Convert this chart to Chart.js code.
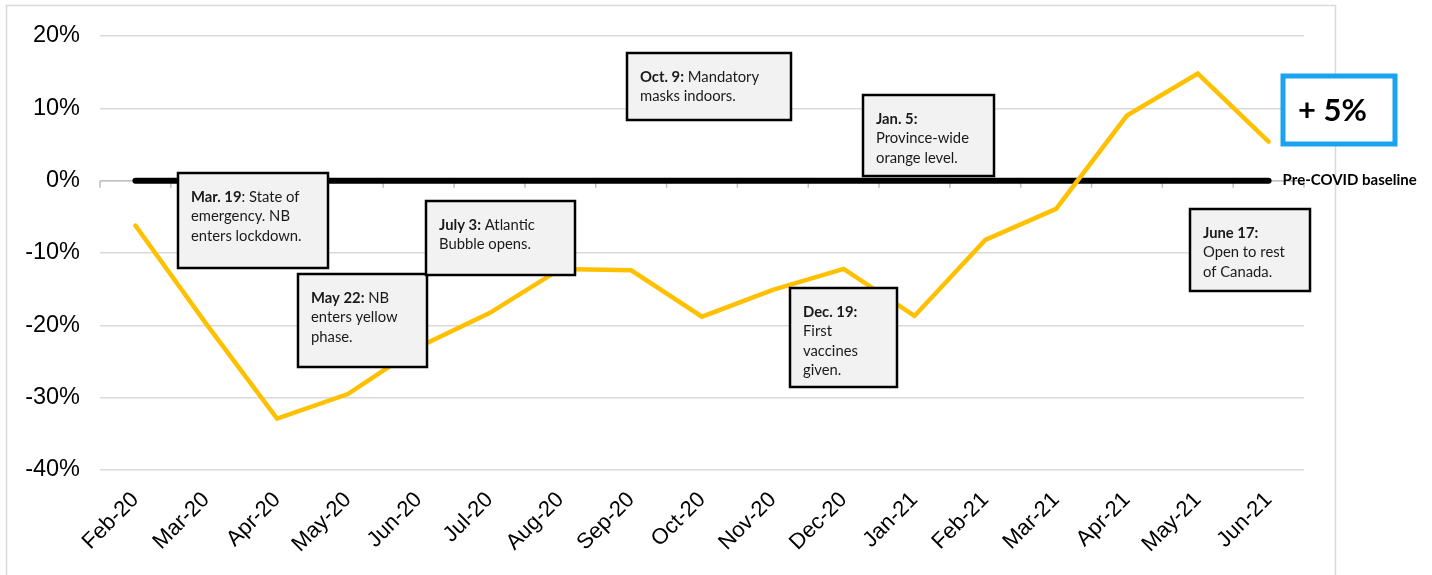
<!DOCTYPE html>
<html>
<head>
<meta charset="utf-8">
<script src="https://cdn.jsdelivr.net/npm/chart.js@4/dist/chart.umd.min.js"></script>
<style>
  body { margin: 0; background: #fff; }
</style>
</head>
<body>
<canvas id="myChart" width="1432" height="575"></canvas>
<script>
// monthly change in activity vs. pre-COVID level (%)
const months = ['Feb-20', 'Mar-20', 'Apr-20', 'May-20', 'Jun-20', 'Jul-20', 'Aug-20', 'Sep-20', 'Oct-20',
  'Nov-20', 'Dec-20', 'Jan-21', 'Feb-21', 'Mar-21', 'Apr-21', 'May-21', 'Jun-21'];
const changePct = [-6.2, -19.8, -32.9, -29.5, -23.0, -18.3, -12.2, -12.4, -18.8,
  -15.1, -12.2, -18.7, -8.2, -3.9, 9.0, 14.8, 5.4];
const baseline = [0, 0, 0, 0, 0, 0, 0, 0, 0, 0, 0, 0, 0, 0, 0, 0, 0];
const yTicks = [-40, -30, -20, -10, 0, 10, 20];

// event call-outs, anchored in axis units (category index, percent)
const notes = [
  { at: [0.595, 1.06], w: 150, h: 95, head: 'Mar. 19', lines: [': State of', 'emergency. NB', 'enters lockdown.'] },
  { at: [2.30, -12.9], w: 129, h: 93, head: 'May 22:', lines: [' NB', 'enters yellow', 'phase.'] },
  { at: [4.11, -2.79], w: 149, h: 74, head: 'July 3:', lines: [' Atlantic', 'Bubble opens.'] },
  { at: [6.94, 17.66], w: 164, h: 67, head: 'Oct. 9:', lines: [' Mandatory', 'masks indoors.'] },
  { at: [9.24, -14.84], w: 107, h: 99, head: 'Dec. 19:', lines: ['', 'First', 'vaccines', 'given.'] },
  { at: [10.28, 11.85], w: 131, h: 81, head: 'Jan. 5:', lines: ['', 'Province-wide', 'orange level.'] },
  { at: [14.89, -3.97], w: 120, h: 82, head: 'June 17:', lines: ['', 'Open to rest', 'of Canada.'] }
];

const noteFont = '"Lato", "Open Sans", sans-serif';

const overlay = {
  id: 'overlay',
  beforeDatasetsDraw(chart) {
    const { ctx, chartArea, scales: { x, y } } = chart;
    ctx.save();
    // outer frame
    ctx.strokeStyle = '#d9d9d9';
    ctx.lineWidth = 1.5;
    ctx.strokeRect(6.5, 5.5, 1329, 620);
    // horizontal axis crossing at 0 with tick marks between months
    const y0 = y.getPixelForValue(0);
    ctx.strokeStyle = '#bfbfbf';
    ctx.lineWidth = 1.5;
    ctx.beginPath();
    ctx.moveTo(chartArea.left, y0);
    ctx.lineTo(chartArea.right, y0);
    for (let i = -0.5; i <= months.length - 0.5; i++) {
      const px = x.getPixelForValue(i);
      ctx.moveTo(px, y0);
      ctx.lineTo(px, y0 + 7);
    }
    ctx.stroke();
    ctx.restore();
  },
  afterDatasetsDraw(chart) {
    const { ctx, scales: { x, y } } = chart;
    ctx.save();
    notes.forEach(n => {
      const left = Math.round(x.getPixelForValue(n.at[0]));
      const top = Math.round(y.getPixelForValue(n.at[1]));
      ctx.fillStyle = '#f2f2f2';
      ctx.fillRect(left, top, n.w, n.h);
      ctx.strokeStyle = '#000';
      ctx.lineWidth = 2.5;
      ctx.strokeRect(left, top, n.w, n.h);
      ctx.fillStyle = '#1a1a1a';
      ctx.textBaseline = 'middle';
      ctx.textAlign = 'left';
      n.lines.forEach((line, k) => {
        const ty = top + 24 + k * 19.5;
        let tx = left + 13;
        if (k === 0) {
          ctx.font = 'bold 14.8px ' + noteFont;
          ctx.fillText(n.head, tx, ty);
          tx += ctx.measureText(n.head).width;
        }
        ctx.font = '14.8px ' + noteFont;
        ctx.fillText(line, tx, ty);
      });
    });

    // baseline label at the end of the zero line
    const last = months.length - 1;
    const y0 = y.getPixelForValue(0);
    ctx.font = 'bold 15px ' + noteFont;
    ctx.fillStyle = '#000';
    ctx.fillText('Pre-COVID baseline', x.getPixelForValue(last) + 14, y0 - 1);

    // latest value box
    const latest = changePct[last];
    const bx = Math.round(x.getPixelForValue(last + 0.2));
    const by = Math.round(y.getPixelForValue(14.48));
    ctx.fillStyle = '#fff';
    ctx.fillRect(bx, by, 112, 68);
    ctx.strokeStyle = '#1aa3f0';
    ctx.lineWidth = 5;
    ctx.strokeRect(bx, by, 112, 68);
    ctx.fillStyle = '#000';
    ctx.font = 'bold 31px ' + noteFont;
    ctx.fillText((latest >= 0 ? '+ ' : '- ') + Math.abs(Math.round(latest)) + '%', bx + 15, by + 35);
    ctx.restore();
  }
};

const axisFont = 'Arial, "Liberation Sans", sans-serif';

const ctx = document.getElementById('myChart').getContext('2d');
const myChart = new Chart(ctx, {
  type: 'line',
  data: {
    labels: months,
    datasets: [{
      label: 'Change',
      data: changePct,
      borderColor: '#ffc000',
      borderWidth: 4.5,
      borderCapStyle: 'round',
      borderJoinStyle: 'miter',
      pointRadius: 0,
      tension: 0
    }, {
      label: 'Baseline',
      data: baseline,
      borderColor: '#000',
      borderWidth: 6,
      borderCapStyle: 'round',
      pointRadius: 0
    }]
  },
  options: {
    responsive: false,
    animation: false,
    devicePixelRatio: 1,
    layout: { padding: { left: 0, right: 128, top: 36, bottom: 0 } },
    plugins: { legend: { display: false }, tooltip: { enabled: false } },
    scales: {
      x: {
        offset: true,
        grid: { display: false },
        border: { display: false },
        ticks: {
          autoSkip: false,
          minRotation: 45,
          maxRotation: 45,
          padding: 9,
          color: '#000',
          font: { family: axisFont, size: 22 }
        },
        afterFit(scale) { scale.height = 105; }
      },
      y: {
        min: yTicks[0],
        max: yTicks[yTicks.length - 1],
        afterBuildTicks(scale) { scale.ticks = yTicks.map(v => ({ value: v })); },
        grid: { color: '#d9d9d9', lineWidth: 1.5, drawTicks: false },
        border: { display: false },
        ticks: {
          padding: 20,
          color: '#000',
          font: { family: axisFont, size: 23.5 },
          callback: v => v + '%'
        },
        afterFit(scale) { scale.width = 100; }
      }
    }
  },
  plugins: [overlay]
});
</script>
</body>
</html>
